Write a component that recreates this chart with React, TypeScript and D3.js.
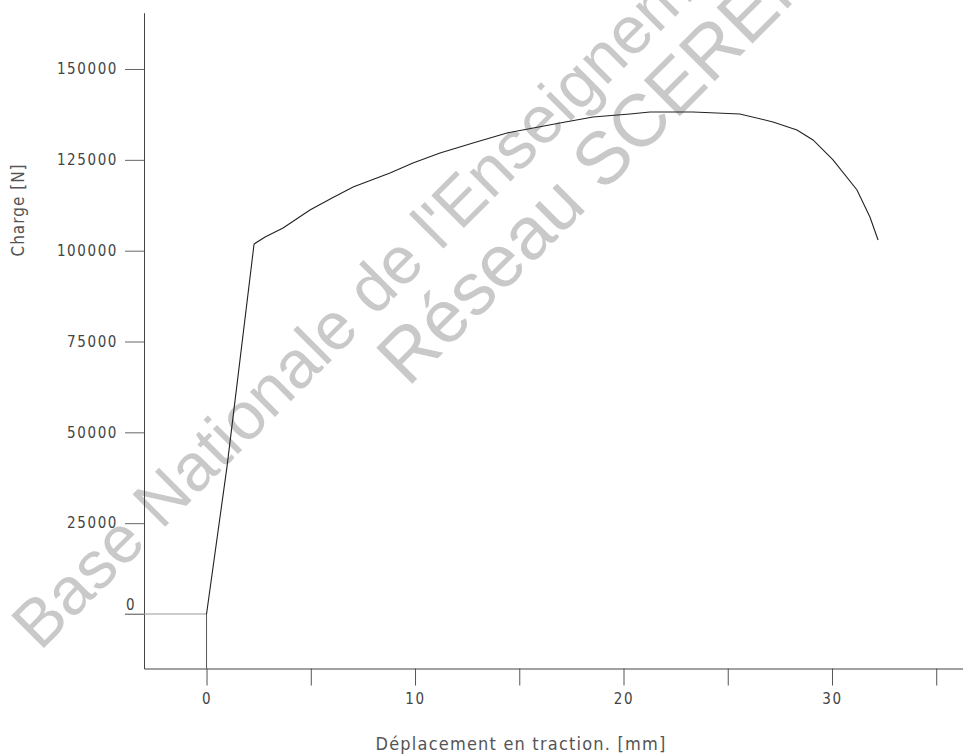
import React, { useEffect, useRef } from "react";
import * as d3 from "d3";

// tensile test curve
const displacement = [0, 0.98, 2.28, 2.81, 3.67, 4.96, 6.02, 7.03, 8.8, 9.9, 11.2, 12.78, 14.41, 16.95, 18.54, 20.31, 21.27, 23.33, 25.58, 27.17, 28.32, 29.09, 30.05, 31.2, 31.82, 32.21];
const load = [0, 40500, 101850, 103770, 106250, 111200, 114500, 117540, 121400, 124140, 126900, 129650, 132400, 135150, 136800, 137630, 138180, 138180, 137630, 135430, 133220, 130470, 124970, 116710, 109280, 102950];

const xTicks = [0, 5, 10, 15, 20, 25, 30, 35];
const yTicks = [0, 25000, 50000, 75000, 100000, 125000, 150000];
const xTitle = "Déplacement en traction. [mm]";
const yTitle = "Charge [N]";
const watermark = ["Base Nationale de l'Enseignement", "Réseau SCEREN"];

const W = 963;
const H = 756;
const FONT = "'Liberation Sans Narrow', 'DejaVu Sans Condensed', 'Liberation Sans', sans-serif";

export default function App() {
  const ref = useRef<SVGSVGElement>(null);

  useEffect(() => {
    const svg = d3.select(ref.current);
    svg.selectAll("*").remove();

    const x = d3.scaleLinear().domain([-3, 36.5]).range([144, 967.5]);
    const y = d3.scaleLinear().domain([-15000, 165500]).range([668.5, 12.7]);

    svg.append("rect").attr("width", W).attr("height", H).attr("fill", "#fff");

    // watermark
    const wm = svg.append("g")
      .attr("fill", "#c9c9c9")
      .attr("font-family", "'Liberation Sans', Arial, sans-serif");
    wm.append("text")
      .attr("font-size", 67)
      .attr("transform", "translate(40,652) rotate(-45)")
      .text(watermark[0]);
    wm.append("text")
      .attr("font-size", 74)
      .attr("transform", "translate(408,388) rotate(-45)")
      .text(watermark[1]);

    // y axis
    const yAxis = svg.append("g")
      .attr("transform", `translate(${x(-3)},0)`)
      .call(d3.axisLeft(y).tickValues(yTicks).tickSize(19).tickSizeOuter(0).tickPadding(7)
        .tickFormat((d) => String(d)));
    yAxis.select(".domain").attr("stroke", "#444");
    yAxis.selectAll(".tick line").attr("stroke", "#666");
    yAxis.selectAll<SVGTextElement, number>(".tick text")
      .attr("font-family", FONT)
      .attr("font-size", 15)
      .attr("fill", "#444")
      .attr("letter-spacing", 1.6)
      .each(function (d) {
        if (d === 0) {
          d3.select(this).attr("text-anchor", "start").attr("x", -18).attr("dy", "-0.3em").attr("letter-spacing", 0);
        }
      });

    // x axis
    const xAxis = svg.append("g")
      .attr("transform", `translate(0,${y(-15000)})`)
      .call(d3.axisBottom(x).tickValues(xTicks).tickSize(17).tickSizeOuter(0).tickPadding(8)
        .tickFormat((d) => (+d % 10 === 0 ? String(d) : "")));
    xAxis.select(".domain").attr("stroke", "#444");
    xAxis.selectAll(".tick line").attr("stroke", "#555");
    xAxis.selectAll(".tick text")
      .attr("font-family", FONT)
      .attr("font-size", 15)
      .attr("fill", "#444")
      .attr("letter-spacing", 1.6);

    // zero reference lines
    svg.append("line")
      .attr("x1", x(-3) - 19).attr("x2", x(0))
      .attr("y1", y(0)).attr("y2", y(0))
      .attr("stroke", "#999");
    svg.append("line")
      .attr("x1", x(0)).attr("x2", x(0))
      .attr("y1", y(0)).attr("y2", y(-15000))
      .attr("stroke", "#555");

    // curve
    const pts = displacement.map((d, i) => [d, load[i]] as [number, number]);
    const line = d3.line<[number, number]>()
      .x((d) => x(d[0]))
      .y((d) => y(d[1]));
    svg.append("path")
      .datum(pts)
      .attr("d", line)
      .attr("fill", "none")
      .attr("stroke", "#222")
      .attr("stroke-width", 1.1);

    // titles
    svg.append("text")
      .attr("transform", "translate(24,210) rotate(-90)")
      .attr("text-anchor", "middle")
      .attr("font-family", FONT)
      .attr("font-size", 17)
      .attr("fill", "#555")
      .attr("letter-spacing", 1)
      .text(yTitle);
    svg.append("text")
      .attr("x", 521)
      .attr("y", 750)
      .attr("text-anchor", "middle")
      .attr("font-family", FONT)
      .attr("font-size", 18)
      .attr("fill", "#555")
      .attr("letter-spacing", 1.2)
      .text(xTitle);
  }, []);

  return (
    <svg ref={ref} width={W} height={H} style={{ position: "absolute", left: 0, top: 0 }} />
  );
}
